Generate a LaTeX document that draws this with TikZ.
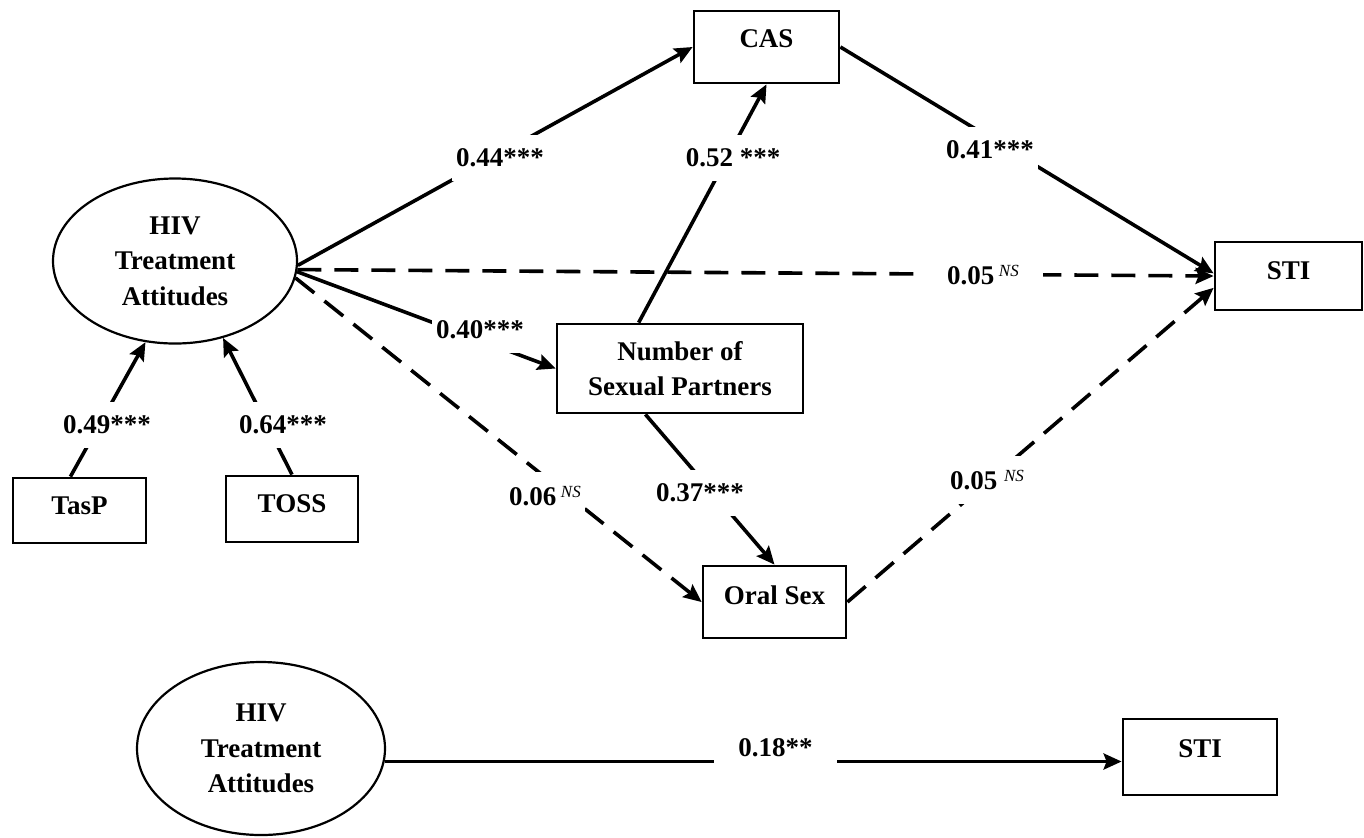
\documentclass[tikz,border=0pt]{standalone}
\usepackage{fontspec}
\setmainfont{Liberation Serif}
\usetikzlibrary{arrows.meta,shapes.geometric}
\newcommand\nsmark[1]{\raisebox{4pt}{\fontsize{8.5}{8.5}\selectfont\mdseries\itshape #1}}
\begin{document}
\begin{tikzpicture}[x=0.5pt,y=-0.5pt,
  every node/.style={font=\fontsize{13.5}{17.75}\selectfont\bfseries},
  latent/.style={draw, line width=1.1pt, ellipse, inner sep=0pt, align=center},
  obs/.style={draw, line width=1.4pt, rectangle, inner sep=0pt, text height=9.1pt, text depth=6pt},
  obstwo/.style={draw, line width=1.4pt, rectangle, inner sep=0pt, align=center},
  eff/.style={line width=1.8pt, -{Stealth[length=9pt,width=8pt,inset=1.5pt]}},
  nseff/.style={eff, dash pattern=on 12pt off 6.5pt},
  coef/.style={fill=white, inner xsep=2pt, inner ysep=7pt},
]
\useasboundingbox (0,0) rectangle (1364,837);

% nodes
\node[latent, minimum width=122pt, minimum height=82.5pt] (hiv) at (175,261) {HIV\\Treatment\\Attitudes};
\node[obs, minimum width=66.5pt, minimum height=32.5pt, text depth=5.5pt] (tasp) at (79.5,510.5) {TasP};
\node[obs, minimum width=66pt, minimum height=33pt] (toss) at (292,509) {TOSS};
\node[obs, minimum width=72.5pt, minimum height=36pt, text depth=9pt] (cas) at (766.5,47) {CAS};
\node[obstwo, minimum width=123pt, minimum height=44.5pt] (nsp) at (680,368.5) {Number of\\Sexual Partners};
\node[obs, minimum width=73.5pt, minimum height=34pt] (sti) at (1288.5,276) {STI};
\node[obs, minimum width=71.5pt, minimum height=36pt, text depth=7pt] (oral) at (774.5,602) {Oral Sex};
\node[latent, minimum width=124pt, minimum height=86.5pt] (hivtwo) at (261,748.5) {HIV\\Treatment\\Attitudes};
\node[obs, minimum width=77pt, minimum height=38pt, text depth=9pt] (stitwo) at (1200,757) {STI};

% connectors
\draw[eff] (tasp.105) -- (hiv.250);
\draw[eff] (toss.north) -- (hiv.302);
\draw[eff] (hiv.-2) -- (cas.west);
\draw[eff] (nsp.132) -- (cas.south);
\draw[eff] (hiv.-5) -- (nsp.west);
\draw[nseff] (hiv.-4) -- (sti.west);
\draw[eff] (cas.east) -- (sti.178);
\draw[eff] (nsp.233) -- (oral.north);
\draw[nseff] (hiv.-8) -- (oral.west);
\draw[nseff] (oral.east) -- (sti.189);
\draw[eff] (hivtwo.-6) -- (hivtwo.-6 -| stitwo.west);

% coefficients
\node[coef] (l1) at (500,158) {0.44***};
\node[coef] (l2) at (733,158) {0.52 ***};
\node[coef] (l3) at (480,330) {0.40***};
\node[coef] (l4) at (990,150) {0.41***};
\node[coef, inner xsep=12pt] (l5) at (983,275) {0.05\,\nsmark{NS}};
\node[coef] (l6) at (107,425) {0.49***};
\node[coef] (l7) at (283,425) {0.64***};
\node[coef] (l8) at (545,496) {0.06\,\nsmark{NS}};
\node[coef] (l9) at (700,493) {0.37***};
\node[coef] (l10) at (987,480) {0.05 \nsmark{NS}};
\node[coef, minimum width=61.5pt, text height=9.1pt, text depth=14pt, inner ysep=2pt] (l11) at (775.5,761) {0.18**};
\end{tikzpicture}
\end{document}
